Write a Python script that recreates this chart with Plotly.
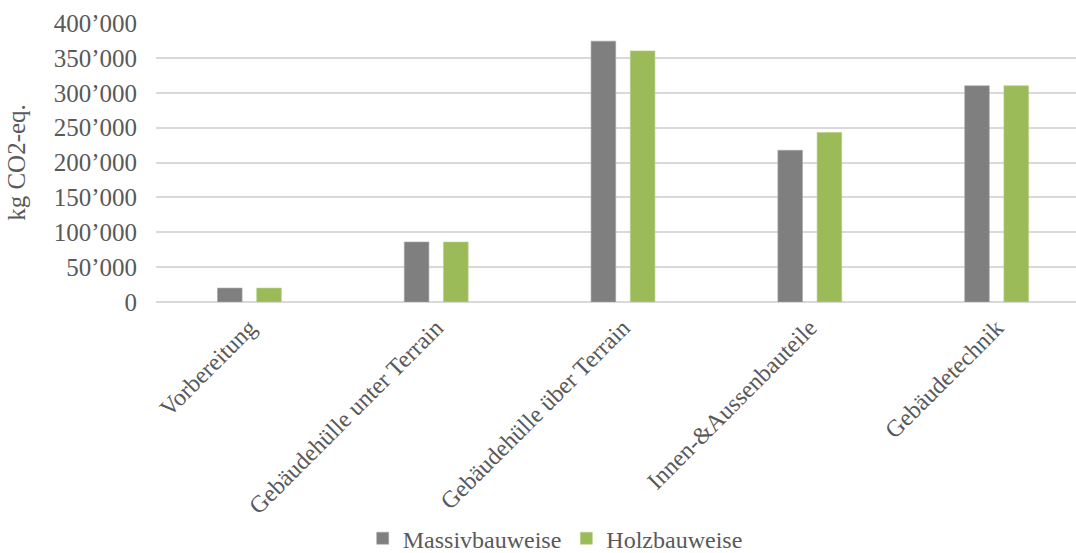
import plotly.graph_objects as go

categories = [
    "Vorbereitung",
    "Gebäudehülle unter Terrain",
    "Gebäudehülle über Terrain",
    "Innen-&Aussenbauteile",
    "Gebäudetechnik",
]
massiv = [20000, 86000, 374000, 217500, 310000]
holz = [20000, 86000, 360000, 243000, 310000]

tick_vals = [0, 50000, 100000, 150000, 200000, 250000, 300000, 350000, 400000]
tick_text = ["0", "50’000", "100’000", "150’000", "200’000", "250’000",
             "300’000", "350’000", "400’000"]

font_family = "Liberation Serif, Times New Roman, serif"
text_color = "#595959"

fig = go.Figure()
fig.add_trace(go.Bar(
    name="Massivbauweise", x=categories, y=massiv,
    marker=dict(color="#7f7f7f", line=dict(color="#a6a6a6", width=0.6)),
))
fig.add_trace(go.Bar(
    name="Holzbauweise", x=categories, y=holz,
    marker=dict(color="#9bbb59", line=dict(color="#b5cf85", width=0.6)),
))

fig.update_layout(
    width=1076, height=553,
    margin=dict(l=156, r=0, t=23, b=251),
    paper_bgcolor="white", plot_bgcolor="white",
    font=dict(family=font_family, size=24, color=text_color),
    barmode="group", bargap=0.58, bargroupgap=0.372,
    showlegend=True,
    legend=dict(
        orientation="h", xref="container", x=0.516, xanchor="center",
        yref="container", y=0.026, yanchor="middle",
        font=dict(size=24, color=text_color), itemwidth=30,
        traceorder="normal", tracegroupgap=0,
    ),
)
fig.update_xaxes(
    type="category", range=[-0.5, 4.425], tickangle=-45, automargin=False,
    showgrid=False, showline=False, ticks="", ticklabelstandoff=6,
    tickfont=dict(size=24, color=text_color),
)
fig.update_yaxes(
    range=[0, 400000], tickvals=tick_vals, ticktext=tick_text, automargin=False,
    showgrid=True, gridcolor="#d9d9d9", gridwidth=1.5,
    zeroline=True, zerolinecolor="#d9d9d9", zerolinewidth=1.5,
    showline=False, ticks="", ticklabelstandoff=18,
    tickfont=dict(size=25, color=text_color),
    title=dict(text="kg CO2-eq.", font=dict(size=25, color=text_color), standoff=20),
)

fig.write_html("out.html")
